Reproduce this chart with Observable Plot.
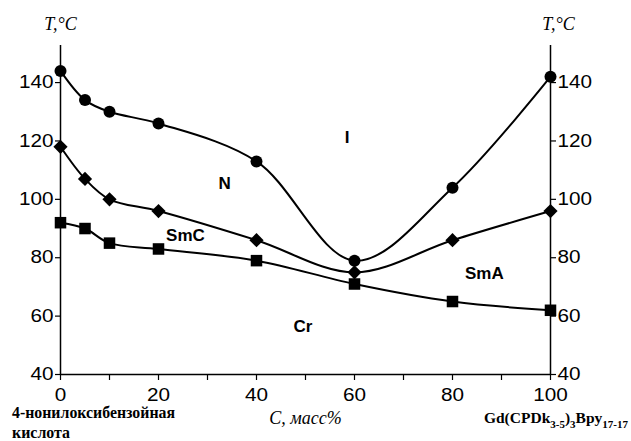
<!DOCTYPE html>
<html>
<head>
<meta charset="utf-8">
<script src="https://cdn.jsdelivr.net/npm/d3@7"></script>
<script src="https://cdn.jsdelivr.net/npm/@observablehq/plot@0.6"></script>
<style>
  html, body { margin: 0; padding: 0; background: #fff; }
  #chart { position: relative; width: 631px; height: 441px; }
</style>
</head>
<body>
<div id="chart"></div>
<script>
// Composition, mass %
const conc = [0, 5, 10, 20, 40, 60, 80, 100];
// Clearing (isotropic) transition, circles
const tIso = [144, 134, 130, 126, 113, 79, 104, 142];
// Smectic transition, diamonds
const tSm = [118, 107, 100, 96, 86, 75, 86, 96];
// Melting (Cr), squares
const tCr = [92, 90, 85, 83, 79, 71, 65, 62];

// Phase region labels
const phaseNames = ["I", "N", "SmC", "SmA", "Cr"];
const phaseX = [58.5, 33.5, 25.5, 86.5, 49.5];
const phaseY = [121, 105.5, 87.5, 74.5, 56.5];

const yTicks = [40, 60, 80, 100, 120, 140];
const xTicks = [0, 10, 20, 30, 40, 50, 60, 70, 80, 90, 100];

const mk = (ys) => conc.map((c, i) => ({c, t: ys[i]}));
const sIso = mk(tIso), sSm = mk(tSm), sCr = mk(tCr);
const phases = phaseNames.map((n, i) => ({n, x: phaseX[i], y: phaseY[i]}));

const sans = "'Liberation Sans', Arial, sans-serif";
const serif = "'Liberation Serif', 'Times New Roman', serif";

const plot = Plot.plot({
  width: 631,
  height: 441,
  marginLeft: 60,
  marginRight: 81,
  marginTop: 45,
  marginBottom: 67,
  style: {fontFamily: sans, fontSize: "18px", color: "#000", background: "#fff"},
  x: {domain: [0, 100]},
  y: {domain: [40, 152.7]},
  marks: [
    Plot.ruleX([0, 100], {stroke: "#000", strokeWidth: 1.5}),
    Plot.ruleY([40], {stroke: "#000", strokeWidth: 1.5}),
    Plot.axisX({ticks: xTicks, tickSize: 6, tickPadding: 8, tickFormat: d => d % 20 === 0 ? d : "", label: null, fontSize: 18, strokeWidth: 1.2}),
    Plot.axisY({anchor: "left", ticks: yTicks, tickSize: 5, tickPadding: 2, label: null, fontSize: 18, strokeWidth: 1.2}),
    Plot.axisY({anchor: "right", ticks: yTicks, tickSize: 5, tickPadding: 2, label: null, fontSize: 18, strokeWidth: 1.2}),
    Plot.line(sIso, {x: "c", y: "t", curve: "catmull-rom", stroke: "#000", strokeWidth: 2}),
    Plot.line(sSm, {x: "c", y: "t", curve: "catmull-rom", stroke: "#000", strokeWidth: 2}),
    Plot.line(sCr, {x: "c", y: "t", curve: "catmull-rom", stroke: "#000", strokeWidth: 2}),
    Plot.dot(sIso, {x: "c", y: "t", r: 6, fill: "#000", symbol: "circle"}),
    Plot.dot(sSm, {x: "c", y: "t", r: 6.4, fill: "#000", symbol: "diamond2"}),
    Plot.dot(sCr, {x: "c", y: "t", r: 6.5, fill: "#000", symbol: "square"}),
    Plot.text(phases, {x: "x", y: "y", text: "n", fontWeight: "bold", fontSize: 17, fontFamily: sans, fill: "#000"}),
    Plot.text(["T,°C"], {frameAnchor: "top-left", dx: 0, dy: -28, textAnchor: "middle", fontStyle: "italic", fontFamily: serif, fontSize: 18}),
    Plot.text(["T,°C"], {frameAnchor: "top-right", dx: 8, dy: -28, textAnchor: "middle", fontStyle: "italic", fontFamily: serif, fontSize: 18}),
    Plot.text(["C, масс%"], {frameAnchor: "bottom", dx: 0, dy: 49, fontStyle: "italic", fontFamily: serif, fontSize: 18})
  ]
});

document.getElementById("chart").appendChild(plot);

const svg = d3.select(plot);

// Stretch axis tick labels horizontally, as in the reference
svg.selectAll("g[aria-label='x-axis tick label'] text, g[aria-label='y-axis tick label'] text").each(function() {
  const w = this.getComputedTextLength();
  if (w > 0) {
    d3.select(this).attr("textLength", w * 1.15).attr("lengthAdjust", "spacingAndGlyphs");
  }
});

// Left component name (bottom left)
const addText = (x, y, s, len) => svg.append("text")
  .attr("x", x).attr("y", y)
  .attr("text-anchor", "start")
  .attr("font-family", serif)
  .attr("font-weight", "bold")
  .attr("font-size", 16)
  .attr("textLength", len)
  .attr("lengthAdjust", "spacingAndGlyphs")
  .attr("fill", "#000")
  .text(s);
addText(12, 418, "4-нонилоксибензойная", 163);
addText(12, 438, "кислота", 58);

// Formula with subscripts (bottom right)
const t = svg.append("text")
  .attr("x", 628).attr("y", 423)
  .attr("text-anchor", "end")
  .attr("font-family", serif)
  .attr("font-weight", "bold")
  .attr("font-size", 15.5)
  .attr("fill", "#000");
t.append("tspan").text("Gd(CPDk");
t.append("tspan").attr("dy", 5).attr("font-size", 11).text("3-5");
t.append("tspan").attr("dy", -5).text(")");
t.append("tspan").attr("dy", 5).attr("font-size", 11).text("3");
t.append("tspan").attr("dy", -5).text("Bpy");
t.append("tspan").attr("dy", 5).attr("font-size", 11).text("17-17");
</script>
</body>
</html>
